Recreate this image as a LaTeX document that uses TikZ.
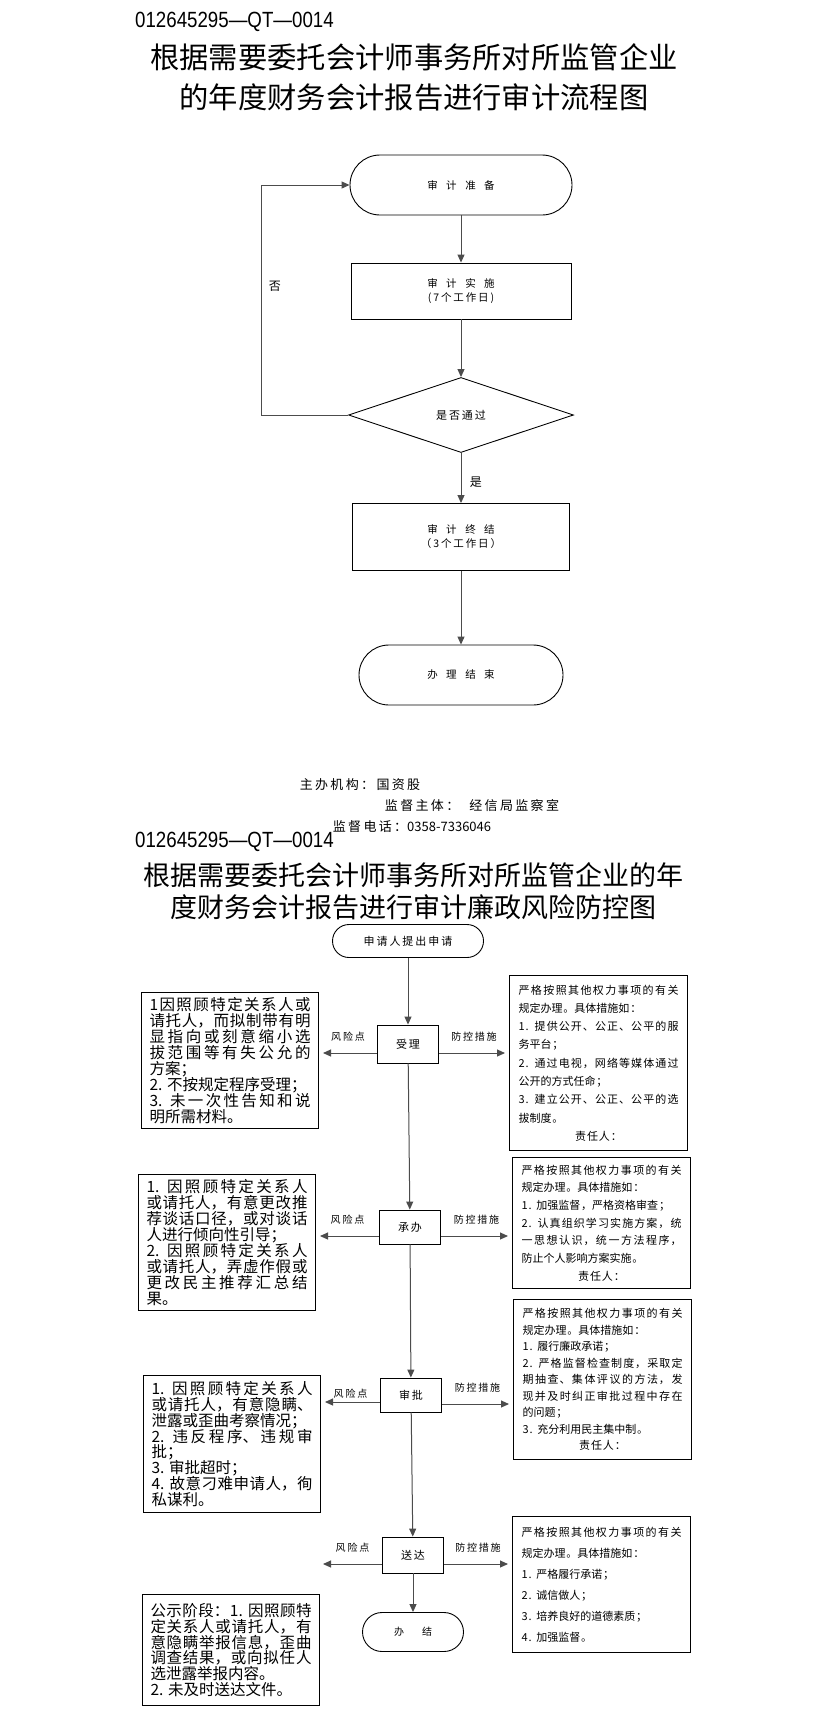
\documentclass[tikz,border=0pt]{standalone}
\usepackage{fontspec}
\setmainfont{Noto Sans CJK SC}
\newfontfamily\codefont{Liberation Sans}[FakeStretch=0.85]
\newfontfamily\loosecjk{Noto Sans CJK SC}[LetterSpace=18]
\newfontfamily\ctrlcjk{Noto Sans CJK SC}[LetterSpace=9]
\usetikzlibrary{arrows.meta,shapes.geometric,positioning}
\XeTeXlinebreaklocale "zh"
\XeTeXlinebreakskip=0pt plus 4pt
\tolerance=9999
\hbadness=10000
\setlength{\parindent}{0pt}
\newcommand{\wg}{\hspace{8.5pt}}

\tikzset{
  term/.style={draw, line width=0.9pt, rounded corners=#1, align=center,
    font=\fontsize{10.5}{14}\selectfont},
  term/.default=30pt,
  procbox/.style={draw, line width=0.9pt, align=center,
    font=\fontsize{10.5}{14}\selectfont},
  decision/.style={draw, diamond, aspect=3, line width=0.9pt, inner sep=0pt,
    minimum width=225pt, minimum height=75pt, font=\loosecjk\fontsize{11}{13}\selectfont},
  stepbox/.style={draw, line width=0.9pt, minimum width=61pt,
    font=\loosecjk\fontsize{11}{13}\selectfont},
  flow/.style={draw=black!70, line width=1pt, -{Triangle[length=8pt,width=7pt]}},
  side/.style={flow, shorten >=4pt},
  tag/.style={font=\loosecjk\fontsize{10}{12}\selectfont},
  riskbox/.style={draw, line width=1pt, anchor=north west, text width=161pt,
    inner xsep=8pt, inner ysep=3pt, align=justify, font=\fontsize{15.5}{15.9}\selectfont},
  ctrlbox/.style={draw, line width=1pt, anchor=north west, text width=160pt,
    inner xsep=9pt, inner ysep=3pt, align=justify, font=\ctrlcjk\fontsize{11}{#1}\selectfont},
  ctrlbox/.default=17.5pt,
  foot/.style={font=\loosecjk\fontsize{13}{15}\selectfont},
  codeline/.style={anchor=west, inner sep=0pt, font=\codefont\fontsize{22}{24}\selectfont},
  heading/.style={align=center, inner sep=0pt}
}

\begin{document}
\begin{tikzpicture}[x=1pt, y=-1pt]
    \useasboundingbox[fill=white] (0,0) rectangle (823,1721);

    % First chart: title
    \node[codeline] (code1) at (135,22) {012645295—QT—0014};
    \node[heading, font=\fontsize{29.3}{40}\selectfont] (title1) at (414,77)
        {根据需要委托会计师事务所对所监管企业\\的年度财务会计报告进行审计流程图};

    % First chart: steps
    \node[term, minimum width=222pt, minimum height=60pt] (prep) at (461,185) {审\wg 计\wg 准\wg 备};
    \node[procbox, minimum width=220pt, minimum height=56pt] (impl) at (461,291)
        {审\wg 计\wg 实\wg 施\\{\loosecjk(7个工作日)}};
    \node[decision] (check) at (461,415) {是否通过};
    \node[procbox, minimum width=217pt, minimum height=67pt] (final) at (461,537)
        {审\wg 计\wg 终\wg 结\\{\loosecjk （3个工作日）}};
    \node[term, minimum width=204pt, minimum height=60pt] (done) at (461,675) {办\wg 理\wg 结\wg 束};

    % First chart: connectors
    \draw[flow] (prep) -- (impl);
    \draw[flow] (impl) -- (check);
    \draw[flow] (check) -- node[pos=0.59, right=5pt, font=\fontsize{12}{14}\selectfont] {是} (final);
    \draw[flow] (final) -- (done);
    \draw[flow] (check.west) -- ++(-87,0) |- node[pos=0.28, right=4pt, font=\fontsize{12}{14}\selectfont] {否} (prep.west);

    % Contact lines
    \node[foot] (host) at (360,785) {主办机构：国资股};
    \node[foot] (super) at (472,806) {监督主体：\hspace{10pt}经信局监察室};
    \node[foot] (phone) at (412,827) {监督电话：{\rmfamily\fontsize{13}{15}\selectfont 0358-7336046}};

    % Second chart: title
    \node[codeline] (code2) at (135,842) {012645295—QT—0014};
    \node[heading, font=\fontsize{27}{32}\selectfont] (title2) at (413,891)
        {根据需要委托会计师事务所对所监管企业的年\\度财务会计报告进行审计廉政风险防控图};

    % Second chart: main column
    \node[term=16.5pt, minimum width=151pt, minimum height=33pt, font=\loosecjk\fontsize{11}{13}\selectfont]
        (apply) at (408,941) {申请人提出申请};
    \node[stepbox, minimum height=38pt] (accept) at (408,1044) {受理};
    \node[stepbox, minimum height=34pt] (handle) at (410,1227) {承办};
    \node[stepbox, minimum height=34pt] (approve) at (411,1395) {审批};
    \node[stepbox, minimum height=36pt] (deliver) at (413,1555) {送达};
    \node[term=19.5pt, minimum width=101pt, minimum height=39pt, font=\fontsize{10}{12}\selectfont]
        (close) at (413,1632) {办\hspace{18pt}结};

    % Risk points (left)
    \node[riskbox, minimum height=136pt] (risk1) at (141,992) {%
        1因照顾特定关系人或\linebreak
        请托人，而拟制带有明\linebreak
        显指向或刻意缩小选\linebreak
        拔范围等有失公允的\linebreak
        方案；\\
        2. 不按规定程序受理；\\
        3. 未一次性告知和说\linebreak
        明所需材料。};
    \node[riskbox, minimum height=136pt] (risk2) at (138,1174) {%
        1. 因照顾特定关系人\linebreak
        或请托人，有意更改推\linebreak
        荐谈话口径，或对谈话\linebreak
        人进行倾向性引导；\\
        2. 因照顾特定关系人\linebreak
        或请托人，弄虚作假或\linebreak
        更改民主推荐汇总结\linebreak
        果。};
    \node[riskbox, minimum height=137pt] (risk3) at (143,1375) {%
        1. 因照顾特定关系人\linebreak
        或请托人，有意隐瞒、\linebreak
        泄露或歪曲考察情况；\\
        2. 违反程序、违规审\linebreak
        批；\\
        3. 审批超时；\\
        4. 故意刁难申请人，徇\linebreak
        私谋利。};
    \node[riskbox, minimum height=111pt] (risk4) at (142,1594) {%
        公示阶段：1. 因照顾特\linebreak
        定关系人或请托人，有\linebreak
        意隐瞒举报信息，歪曲\linebreak
        调查结果，或向拟任人\linebreak
        选泄露举报内容。\\
        2. 未及时送达文件。};

    % Control measures (right)
    \node[ctrlbox=18.3pt, minimum height=175pt] (ctrl1) at (509,975) {%
        严格按照其他权力事项的有关\linebreak
        规定办理。具体措施如：\\
        1. 提供公开、公正、公平的服\linebreak
        务平台；\\
        2. 通过电视，网络等媒体通过\linebreak
        公开的方式任命；\\
        3. 建立公开、公正、公平的选\linebreak
        拔制度。\\
        \centerline{责任人：}};
    \node[ctrlbox=17.7pt, minimum height=131pt] (ctrl2) at (512,1157) {%
        严格按照其他权力事项的有关\linebreak
        规定办理。具体措施如：\\
        1. 加强监督，严格资格审查；\\
        2. 认真组织学习实施方案，统\linebreak
        一思想认识，统一方法程序，\linebreak
        防止个人影响方案实施。\\
        \centerline{责任人：}};
    \node[ctrlbox=16.5pt, minimum height=160pt] (ctrl3) at (513,1299) {%
        严格按照其他权力事项的有关\linebreak
        规定办理。具体措施如：\\
        1. 履行廉政承诺；\\
        2. 严格监督检查制度，采取定\linebreak
        期抽查、集体评议的方法，发\linebreak
        现并及时纠正审批过程中存在\linebreak
        的问题；\\
        3. 充分利用民主集中制。\\
        \centerline{责任人：}};
    \node[ctrlbox=21pt, minimum height=136pt] (ctrl4) at (512,1516) {%
        严格按照其他权力事项的有关\linebreak
        规定办理。具体措施如：\\
        1. 严格履行承诺；\\
        2. 诚信做人；\\
        3. 培养良好的道德素质；\\
        4. 加强监督。};

    % Main column connectors
    \draw[flow] (apply) -- (accept);
    \draw[flow] (accept) -- (handle);
    \draw[flow] (handle) -- (approve);
    \draw[flow] (approve) -- (deliver);
    \draw[flow] (deliver) -- (close);

    % Side connectors
    \coordinate (accL) at ([yshift=-9pt]accept.west);
    \coordinate (accR) at ([yshift=-9pt]accept.east);
    \coordinate (hanL) at ([yshift=-9pt]handle.west);
    \coordinate (hanR) at ([yshift=-9pt]handle.east);
    \coordinate (appL) at ([yshift=-7pt]approve.west);
    \coordinate (appR) at ([yshift=-9pt]approve.east);
    \coordinate (delL) at ([yshift=-9pt]deliver.west);
    \coordinate (delR) at ([yshift=-9pt]deliver.east);
    \coordinate (delEnd) at (323,1564);

    \draw[side] (accL) -- (accL -| risk1.east) node[tag, midway, above=8pt] {风险点};
    \draw[side] (accR) -- (accR -| ctrl1.west) node[tag, midway, above=8pt] {防控措施};
    \draw[side] (hanL) -- (hanL -| risk2.east) node[tag, midway, above=8pt] {风险点};
    \draw[side] (hanR) -- (hanR -| ctrl2.west) node[tag, midway, above=8pt] {防控措施};
    \draw[side] (appL) -- (appL -| risk3.east) node[tag, midway, above=0pt] {风险点};
    \draw[side] (appR) -- (appR -| ctrl3.west) node[tag, midway, above=8pt] {防控措施};
    \draw[flow] (delL) -- (delEnd) node[tag, midway, above=8pt] {风险点};
    \draw[side] (delR) -- (delR -| ctrl4.west) node[tag, midway, above=8pt] {防控措施};
\end{tikzpicture}
\end{document}
